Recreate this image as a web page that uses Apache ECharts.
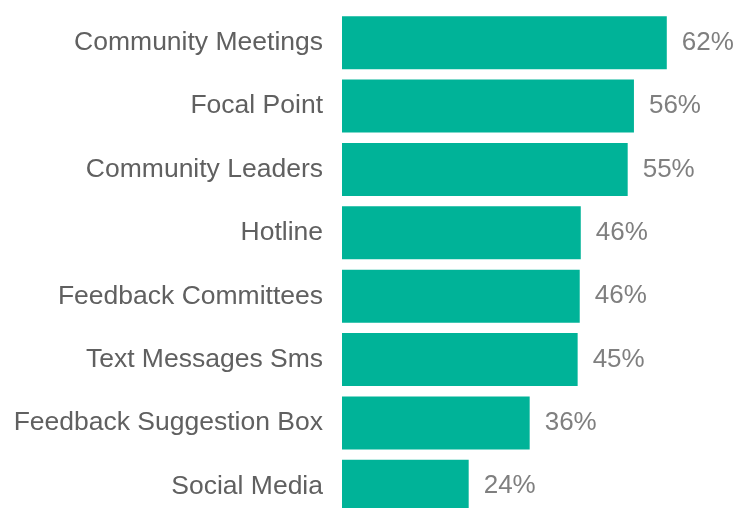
<!DOCTYPE html>
<html>
<head>
<meta charset="utf-8">
<script src="https://cdn.jsdelivr.net/npm/echarts@6/dist/echarts.min.js"></script>
<style>
  html, body { margin: 0; padding: 0; background: #fff; overflow: hidden; }
  /* a bit taller than the window: the last bar is cut off at the bottom edge */
  #chart { width: 737px; height: 520px; }
</style>
</head>
<body>
<div id="chart"></div>
<script>
// top to bottom as shown; labels show the rounded value
const categories = [
  'Community Meetings', 'Focal Point', 'Community Leaders', 'Hotline',
  'Feedback Committees', 'Text Messages Sms', 'Feedback Suggestion Box', 'Social Media'
]
const shares = [62.3, 56.0, 54.8, 45.8, 45.6, 45.2, 36.0, 24.3]

const chart = echarts.init(document.getElementById('chart'))
chart.setOption({
  animation: false,
  grid: { left: 342, width: 391, top: 11, bottom: 2, containLabel: false },
  xAxis: {
    type: 'value',
    min: 0,
    max: 75,
    show: false
  },
  yAxis: {
    type: 'category',
    inverse: true,
    data: categories,
    axisLine: { show: false },
    axisTick: { show: false },
    axisLabel: {
      margin: 19,
      fontFamily: '"Liberation Sans", Arial, sans-serif',
      fontSize: 26.5,
      color: '#606060'
    }
  },
  series: [{
    type: 'bar',
    data: shares,
    barWidth: 53,
    itemStyle: { color: '#00B398' },
    label: {
      show: true,
      position: 'right',
      distance: 15,
      formatter: p => Math.round(p.value) + '%',
      fontFamily: '"Liberation Sans", Arial, sans-serif',
      fontSize: 26,
      color: '#7f7f7f'
    }
  }]
})
</script>
</body>
</html>
